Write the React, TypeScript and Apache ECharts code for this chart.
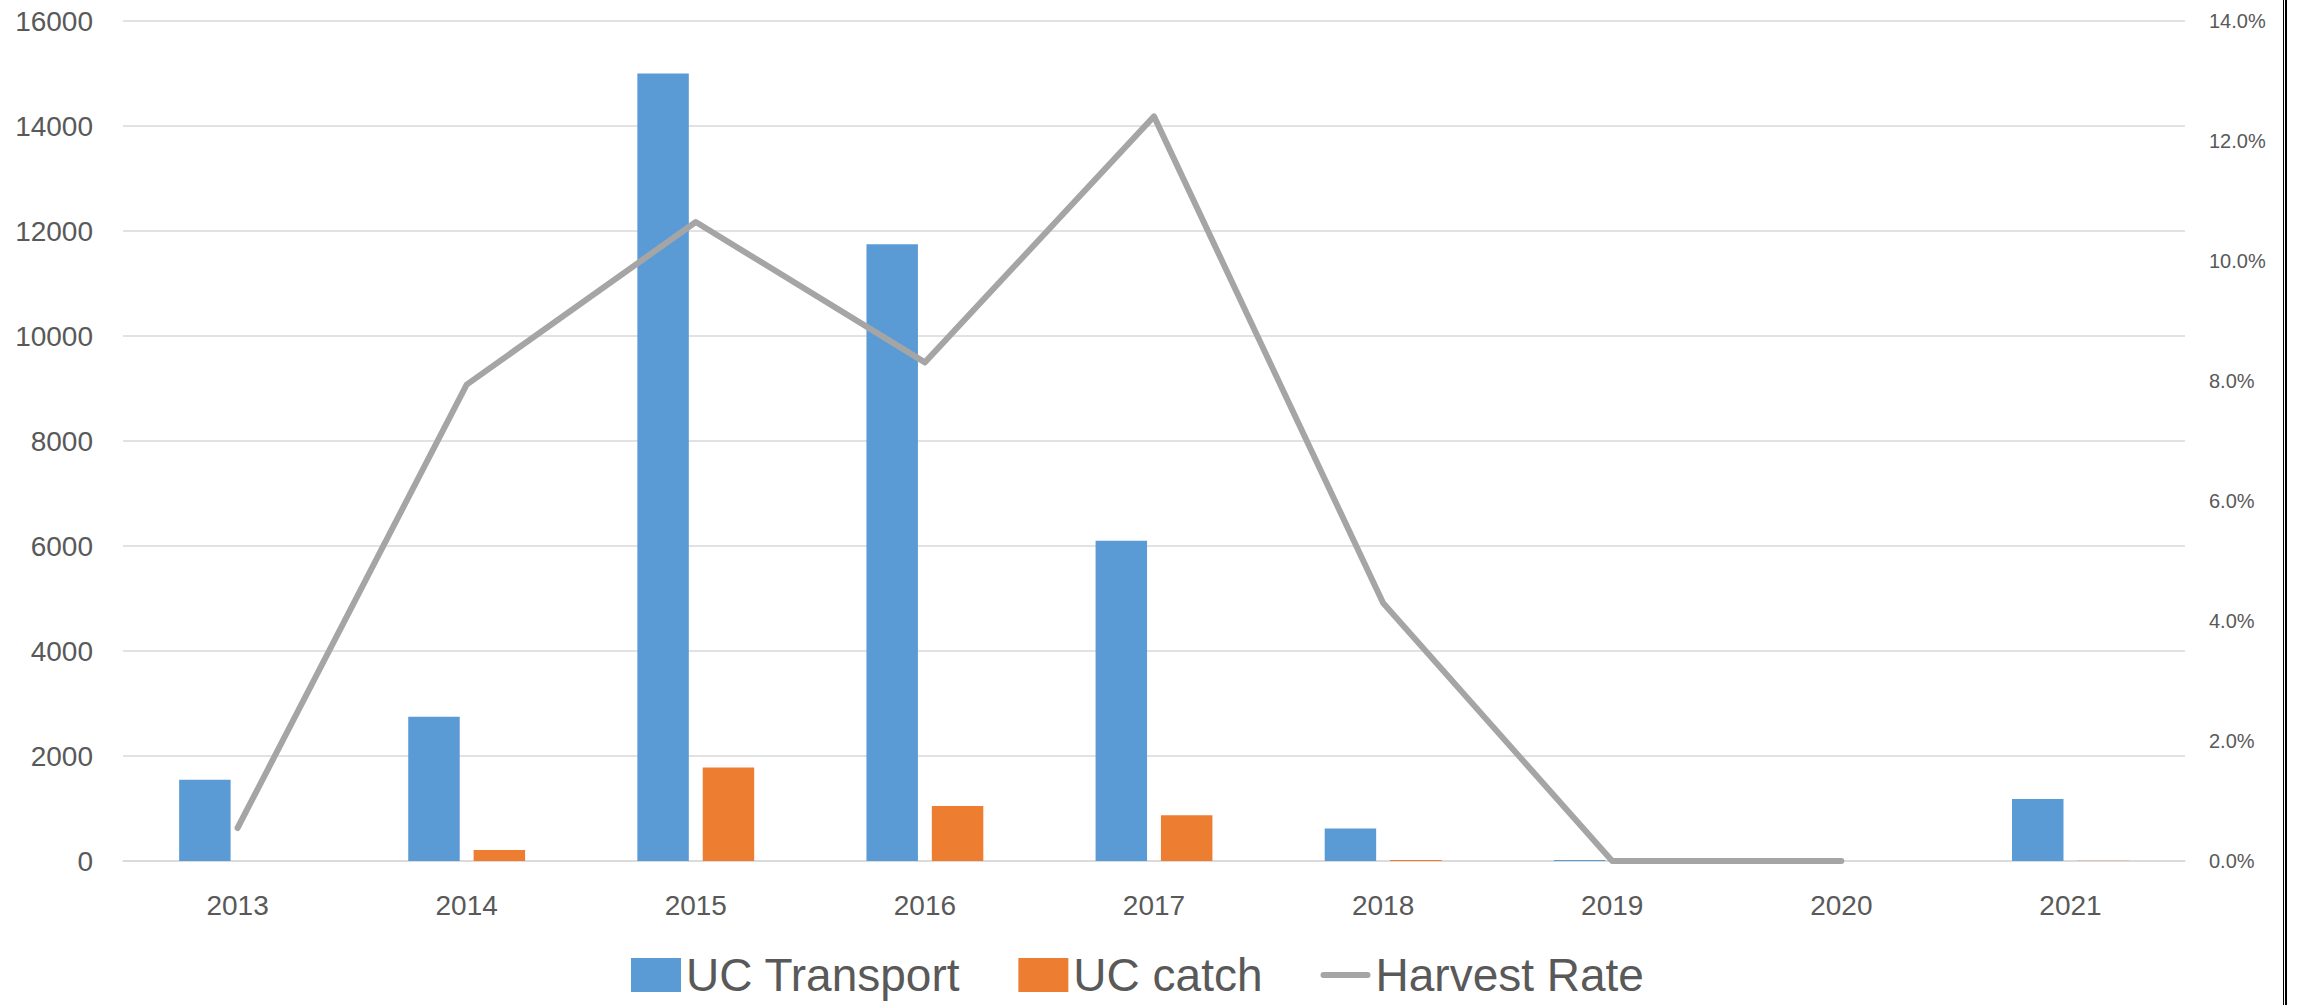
import React, { useEffect, useRef } from "react";
import * as echarts from "echarts";

const years = ["2013", "2014", "2015", "2016", "2017", "2018", "2019", "2020", "2021"];
const ucTransport = [1550, 2750, 15000, 11750, 6100, 620, 20, 0, 1180];
const ucCatch = [0, 210, 1780, 1050, 870, 20, 0, 0, 6];
const harvestRate = [0.55, 7.94, 10.65, 8.31, 12.41, 4.3, 0, 0, null];

const FONT = "'Liberation Sans', Arial, sans-serif";
const TEXT = "#595959";

export default function App() {
  const ref = useRef<HTMLDivElement>(null);
  useEffect(() => {
    if (!ref.current) return;
    const chart = echarts.init(ref.current, undefined, { renderer: "svg" });
    chart.setOption({
      animation: false,
      backgroundColor: "#ffffff",
      textStyle: { fontFamily: FONT },
      grid: { left: 123, right: 115, top: 21, bottom: 144, containLabel: false },
      legend: {
        left: 626,
        top: 947,
        itemWidth: 50,
        itemHeight: 34,
        itemGap: 58,
        textStyle: { fontSize: 46, lineHeight: 46, color: TEXT, fontFamily: FONT },
        data: [
          { name: "UC Transport", icon: "rect" },
          { name: "UC catch", icon: "rect" },
          {
            name: "Harvest Rate",
            icon: "path://M3,0 L47,0 A3,3 0 0 1 47,6 L3,6 A3,3 0 0 1 3,0 Z",
          },
        ],
      },
      xAxis: {
        type: "category",
        data: years,
        axisLine: { show: true, lineStyle: { color: "#D9D9D9", width: 1.5 } },
        axisTick: { show: false },
        axisLabel: { fontSize: 28, color: TEXT, margin: 30, fontFamily: FONT },
      },
      yAxis: [
        {
          type: "value",
          min: 0,
          max: 16000,
          interval: 2000,
          axisLine: { show: false },
          axisTick: { show: false },
          axisLabel: {
            fontSize: 28,
            color: TEXT,
            margin: 30,
            fontFamily: FONT,
            formatter: (v: number) => String(v),
          },
          splitLine: { lineStyle: { color: "#D9D9D9", width: 1.5 } },
        },
        {
          type: "value",
          min: 0,
          max: 14,
          interval: 2,
          position: "right",
          axisLine: { show: false },
          axisTick: { show: false },
          splitLine: { show: false },
          axisLabel: {
            fontSize: 20,
            color: TEXT,
            margin: 24,
            fontFamily: FONT,
            formatter: (v: number) => v.toFixed(1) + "%",
          },
        },
      ],
      series: [
        {
          name: "UC Transport",
          type: "bar",
          data: ucTransport,
          itemStyle: { color: "#5B9BD5" },
          barCategoryGap: "49%",
          barGap: "27%",
        },
        {
          name: "UC catch",
          type: "bar",
          data: ucCatch,
          itemStyle: { color: "#ED7D31" },
          barCategoryGap: "49%",
          barGap: "27%",
        },
        {
          name: "Harvest Rate",
          type: "line",
          yAxisIndex: 1,
          data: harvestRate,
          symbol: "none",
          z: 5,
          itemStyle: { color: "#A5A5A5" },
          lineStyle: { color: "#A5A5A5", width: 6, cap: "round", join: "round" },
        },
      ],
      graphic: [
        { type: "rect", shape: { x: 2283, y: 0, width: 1, height: 1005 }, style: { fill: "#000" } },
        { type: "rect", shape: { x: 2285, y: 0, width: 2, height: 1005 }, style: { fill: "#000" } },
      ],
    });
    return () => chart.dispose();
  }, []);
  return (
    <div
      ref={ref}
      style={{ position: "fixed", left: 0, top: 0, width: 2300, height: 1005, background: "#fff" }}
    />
  );
}
